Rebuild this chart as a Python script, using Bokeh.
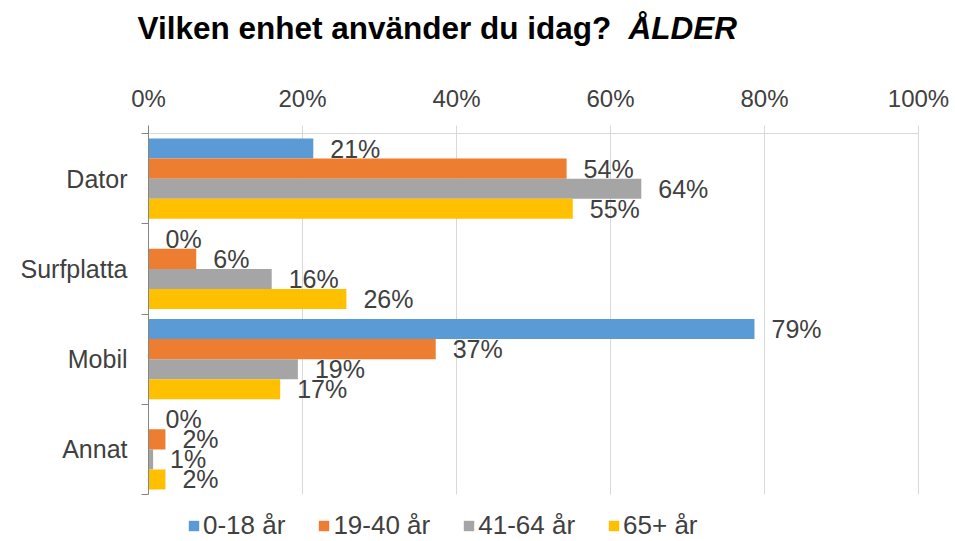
from bokeh.plotting import figure
from bokeh.models import (Range1d, FixedTicker, Legend, LegendItem, Label,
                          ColumnDataSource, PrintfTickFormatter)
from bokeh.core.properties import value
from bokeh.embed import file_html
from bokeh.resources import INLINE

categories = ["Dator", "Surfplatta", "Mobil", "Annat"]
series_names = ["0-18 år", "19-40 år", "41-64 år", "65+ år"]
v_0_18 = [21.4, 0.0, 78.7, 0.0]
v_19_40 = [54.3, 6.2, 37.3, 2.2]
v_41_64 = [64.0, 16.0, 19.4, 0.6]
v_65 = [55.1, 25.7, 17.1, 2.2]
x_ticks = [0, 20, 40, 60, 80, 100]
colors = ["#5B9BD5", "#ED7D31", "#A5A5A5", "#FFC000"]
series_values = [v_0_18, v_19_40, v_41_64, v_65]
title_main = "Vilken enhet använder du idag?"
title_tail = "ÅLDER"

FONT = "Liberation Sans"
TXT = "#404040"

# ---- layout geometry (page pixels) ----
W, H = 955, 541
PX_LEFT, PX_RIGHT = 148, 918      # columns of 0% and 100%
PX_TOP, PX_BOTTOM = 133, 494      # rows of top / bottom of category area
n = len(categories)
X_MAX = x_ticks[-1]
sx = (PX_RIGHT - PX_LEFT) / X_MAX
sy = (PX_BOTTOM - PX_TOP) / n

# the frame fills the whole canvas; axes are pinned with fixed_location
p = figure(width=W, height=H, output_backend="svg", toolbar_location=None,
           x_range=Range1d(-PX_LEFT / sx, X_MAX + (W - PX_RIGHT) / sx),
           y_range=Range1d(n + (H - PX_BOTTOM) / sy, -PX_TOP / sy),
           x_axis_location="above", min_border=0)
p.outline_line_color = None
p.title.visible = False
p.ygrid.visible = False
p.xgrid.ticker = FixedTicker(ticks=x_ticks[1:])
p.xgrid.grid_line_color = "#D9D9D9"
p.xgrid.grid_line_width = 1
try:
    p.xgrid.cross_bounds = (0, n)
except Exception:
    p.xgrid.visible = False
    p.segment(x0=x_ticks[1:], x1=x_ticks[1:], y0=[0] * (len(x_ticks) - 1),
              y1=[n] * (len(x_ticks) - 1), line_color="#D9D9D9", line_width=1)

xa = p.xaxis[0]
xa.fixed_location = 0
xa.bounds = (0, X_MAX)
xa.ticker = FixedTicker(ticks=x_ticks)
xa.formatter = PrintfTickFormatter(format="%d%%")
xa.axis_line_color = "#D9D9D9"
xa.major_tick_line_color = "#D9D9D9"
xa.major_tick_out = 8
xa.major_tick_in = 0
xa.minor_tick_line_color = None
xa.major_label_text_font = FONT
xa.major_label_text_font_size = "24px"
xa.major_label_text_color = TXT
xa.major_label_standoff = 14

ya = p.yaxis[0]
ya.fixed_location = 0
centers = [i + 0.5 for i in range(n)]
ya.ticker = FixedTicker(ticks=centers, minor_ticks=list(range(n + 1)))
ya.major_label_overrides = {c: name for c, name in zip(centers, categories)}
ya.bounds = (-8 / sy, n)
ya.axis_line_color = "#868686"
ya.major_tick_line_color = None
ya.major_tick_out = 0
ya.major_tick_in = 0
ya.minor_tick_line_color = "#868686"
ya.minor_tick_out = 7
ya.minor_tick_in = 0
ya.major_label_text_font = FONT
ya.major_label_text_font_size = "25px"
ya.major_label_text_color = TXT
ya.major_label_standoff = 14

bar_h = 0.222
offsets = [-0.333, -0.111, 0.111, 0.333]
items = []
for name, vals, col, off in zip(series_names, series_values, colors, offsets):
    ys = [c + off for c in centers]
    src = ColumnDataSource(dict(y=ys, right=vals,
                                label=[f"{round(v)}%" for v in vals]))
    r = p.hbar(y="y", left=0, right="right", height=bar_h, source=src,
               fill_color=col, line_color=None)
    p.text(x="right", y="y", text="label", source=src, x_offset=17,
           text_baseline="middle", text_align="left",
           text_font=value(FONT), text_font_size="25px", text_color=TXT)
    items.append(LegendItem(label=name, renderers=[r]))

legend = Legend(items=items, orientation="horizontal", location=(187, 0),
                glyph_width=13, glyph_height=13, label_standoff=3, spacing=32,
                padding=0, margin=0, border_line_color=None,
                background_fill_alpha=0,
                label_text_font=FONT, label_text_font_size="26px",
                label_text_color=TXT)
p.add_layout(legend, "center")

TITLE_Y = H - 27
p.add_layout(Label(x=137, y=TITLE_Y, x_units="screen", y_units="screen",
                   text=title_main, text_font=FONT, text_font_size="31.5px",
                   text_font_style="bold", text_color="black",
                   text_baseline="alphabetic"))
p.add_layout(Label(x=628, y=TITLE_Y, x_units="screen", y_units="screen",
                   text=title_tail, text_font=FONT, text_font_size="31.5px",
                   text_font_style="bold italic", text_color="black",
                   text_baseline="alphabetic"))

open("out.html", "w").write(file_html(p, INLINE))
